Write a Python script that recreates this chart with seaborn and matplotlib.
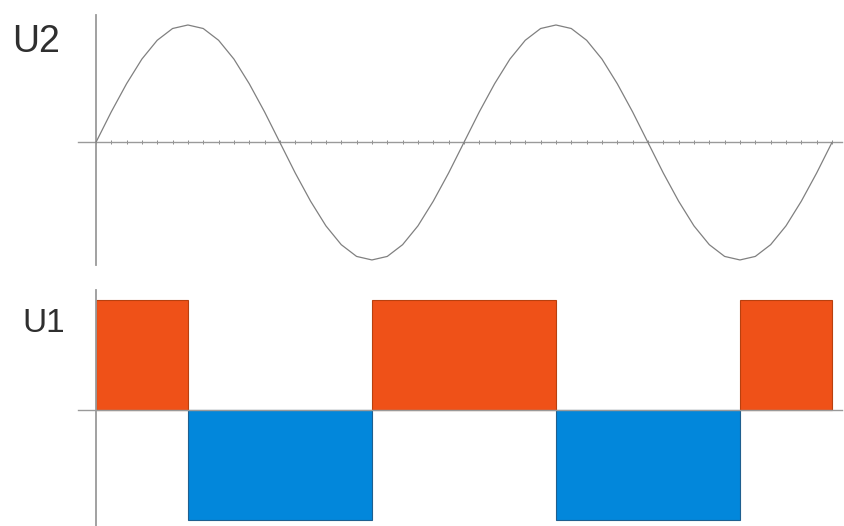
"""
Sine voltage U2 above the square wave U1 that switches with its sign changes.
"""
import numpy as np
import pandas as pd
import seaborn as sns
import matplotlib.pyplot as plt

# phase in degrees, one sample every 15 degrees over two periods
PHASE = list(range(0, 721, 15))
# U2, normalised to the peak
U2 = [
    0.00, 0.26, 0.50, 0.71, 0.87, 0.97, 1.00, 0.97, 0.87, 0.71, 0.50, 0.26,
    0.00, -0.26, -0.50, -0.71, -0.87, -0.97, -1.00, -0.97, -0.87, -0.71, -0.50, -0.26,
    0.00, 0.26, 0.50, 0.71, 0.87, 0.97, 1.00, 0.97, 0.87, 0.71, 0.50, 0.26,
    0.00, -0.26, -0.50, -0.71, -0.87, -0.97, -1.00, -0.97, -0.87, -0.71, -0.50, -0.26,
    0.00,
]

# U1 square wave segments (degrees) and levels
U1_START = [0, 90, 270, 450, 630]
U1_END = [90, 270, 450, 630, 720]
U1_LEVEL = [1.0, -1.0, 1.0, -1.0, 1.0]

POS_COLOR, POS_EDGE = "#EF5118", "#B8400F"
NEG_COLOR, NEG_EDGE = "#0287DB", "#1F5F8F"
AXIS_COLOR = "#9a9a9a"
TEXT_COLOR = "#2f2f2f"

XLIM = (-17.5, 729.8)

sns.set_style("white")
plt.rcParams["font.family"] = ["Liberation Sans", "DejaVu Sans"]

fig = plt.figure(figsize=(8.45, 5.26), dpi=100)
W, H = 845.0, 526.0


def px_axes(x0, y0, x1, y1):
    # axes from pixel box (top-left origin)
    return fig.add_axes([x0 / W, 1 - y1 / H, (x1 - x0) / W, (y1 - y0) / H])


def style_axes(ax, ticks):
    for side in ["top", "right"]:
        ax.spines[side].set_visible(False)
    ax.spines["left"].set_position(("data", 0))
    ax.spines["bottom"].set_position(("data", 0))
    ax.spines["left"].set_color(AXIS_COLOR)
    ax.spines["bottom"].set_color(AXIS_COLOR)
    ax.spines["left"].set_linewidth(1.3)
    ax.spines["bottom"].set_linewidth(1.0)
    ax.set_yticks([])
    ax.set_xticks(ticks)
    ax.set_xticklabels([])
    ax.tick_params(axis="x", direction="inout", length=3, width=0.7,
                   color="#8a8a8a", bottom=bool(ticks))
    ax.set_xlim(*XLIM)
    ax.set_xlabel("")
    ax.set_ylabel("")
    ax.patch.set_alpha(0)


# top panel: sine
ax_top = px_axes(78, 15, 842, 265)
df_u2 = pd.DataFrame({"phase": PHASE, "u2": U2})
sns.lineplot(data=df_u2, x="phase", y="u2", ax=ax_top, color="#808080",
             linewidth=0.9, zorder=3)
ax_top.set_ylim(-1.043, 1.085)
style_axes(ax_top, PHASE)
fig.text(12 / W, 1 - 52 / H, "U2", fontsize=27, color=TEXT_COLOR,
         ha="left", va="baseline")

# bottom panel: square wave
ax_bot = px_axes(78, 290, 842, 526)
widths = [e - s for s, e in zip(U1_START, U1_END)]
colors = [POS_COLOR if v > 0 else NEG_COLOR for v in U1_LEVEL]
edges = [POS_EDGE if v > 0 else NEG_EDGE for v in U1_LEVEL]
ax_bot.bar(U1_START, U1_LEVEL, width=widths, align="edge", color=colors,
           edgecolor=edges, linewidth=0.8, zorder=2)
ax_bot.set_ylim(-1.055, 1.09)
style_axes(ax_bot, [])
ax_bot.spines["bottom"].set_zorder(3)
fig.text(22 / W, 1 - 332 / H, "U1", fontsize=24, color=TEXT_COLOR,
         ha="left", va="baseline")

fig.savefig("out.png", dpi=100)
